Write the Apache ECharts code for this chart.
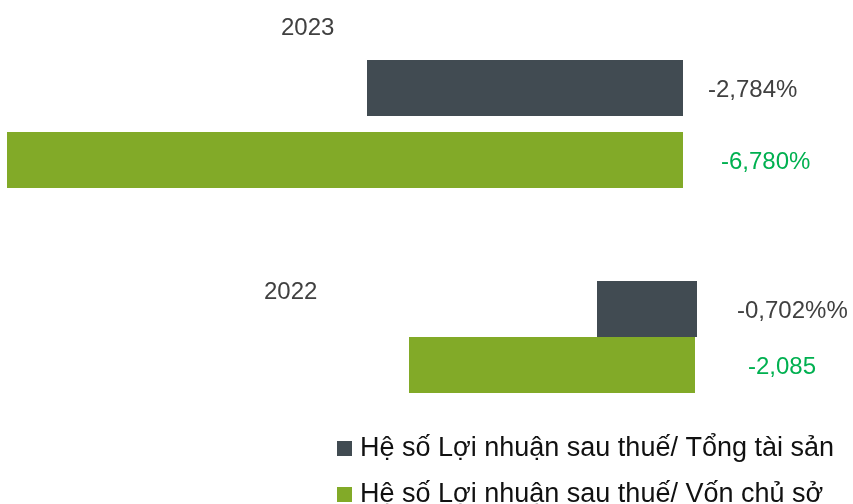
<!DOCTYPE html>
<html><head><meta charset="utf-8">
<script src="https://cdn.jsdelivr.net/npm/echarts@6/dist/echarts.min.js"></script>
<style>html,body{margin:0;padding:0;background:#fff}#c{width:853px;height:504px}</style>
</head><body><div id="c"></div>
<script>
const years = ['2023', '2022'];
const seriesNames = ['Hệ số Lợi nhuận sau thuế/ Tổng tài sản', 'Hệ số Lợi nhuận sau thuế/ Vốn chủ sở'];
const roaValues = [-2.784, -0.702];
const roeValues = [-6.780, -2.085];
const roaLabels = ['-2,784%', '-0,702%%'];
const roeLabels = ['-6,780%', '-2,085'];

const GRAY = '#414b52', GREEN = '#82aa28';
const FONT = '"Liberation Sans", Arial, sans-serif';
// per-bar panels
const panels = [
  {year:0, s:0, left:367, right:170, top:60, h:56, dist:25},
  {year:0, s:1, left:7, right:170, top:132, h:56, dist:38},
  {year:1, s:0, left:597, right:156, top:281, h:56, dist:40},
  {year:1, s:1, left:409, right:158, top:337, h:56, dist:53}
];
const grids = [], xAxes = [], yAxes = [], series = [];
panels.forEach((p, i) => {
  const vals = p.s === 0 ? roaValues : roeValues;
  const labs = p.s === 0 ? roaLabels : roeLabels;
  grids.push({left:p.left, right:p.right, top:p.top, height:p.h, containLabel:false});
  xAxes.push({type:'value', gridIndex:i, min:vals[p.year], max:0, show:false});
  yAxes.push({type:'category', gridIndex:i, data:[years[p.year]], show:false});
  series.push({
    type:'bar', name:seriesNames[p.s], xAxisIndex:i, yAxisIndex:i,
    data:[vals[p.year]], barWidth:'100%', color: p.s === 0 ? GRAY : GREEN,
    label:{show:true, position:'right', distance:p.dist, offset:[0,2], formatter:() => labs[p.year],
      color: p.s === 0 ? '#404040' : '#00b050', fontSize:24, fontFamily:FONT},
    silent:true, animation:false
  });
});
const legendBase = {orient:'horizontal', left:332, itemWidth:15, itemHeight:15, icon:'rect',
  textStyle:{fontSize:27, color:'#111111', fontFamily:FONT, padding:[0,0,0,3]}, selectedMode:false};
const chart = echarts.init(document.getElementById('c'), null, {renderer:'canvas'});
chart.setOption({
  animation:false,
  grid:grids, xAxis:xAxes, yAxis:yAxes, series:series,
  legend:[
    Object.assign({}, legendBase, {data:[seriesNames[0]], top:430}),
    Object.assign({}, legendBase, {data:[seriesNames[1]], top:476})
  ],
  graphic:[
    {type:'text', x:281, y:28, style:{text:years[0], fontSize:24, fill:'#404040', fontFamily:FONT, verticalAlign:'middle'}},
    {type:'text', x:264, y:292, style:{text:years[1], fontSize:24, fill:'#404040', fontFamily:FONT, verticalAlign:'middle'}}
  ]
});
</script></body></html>
